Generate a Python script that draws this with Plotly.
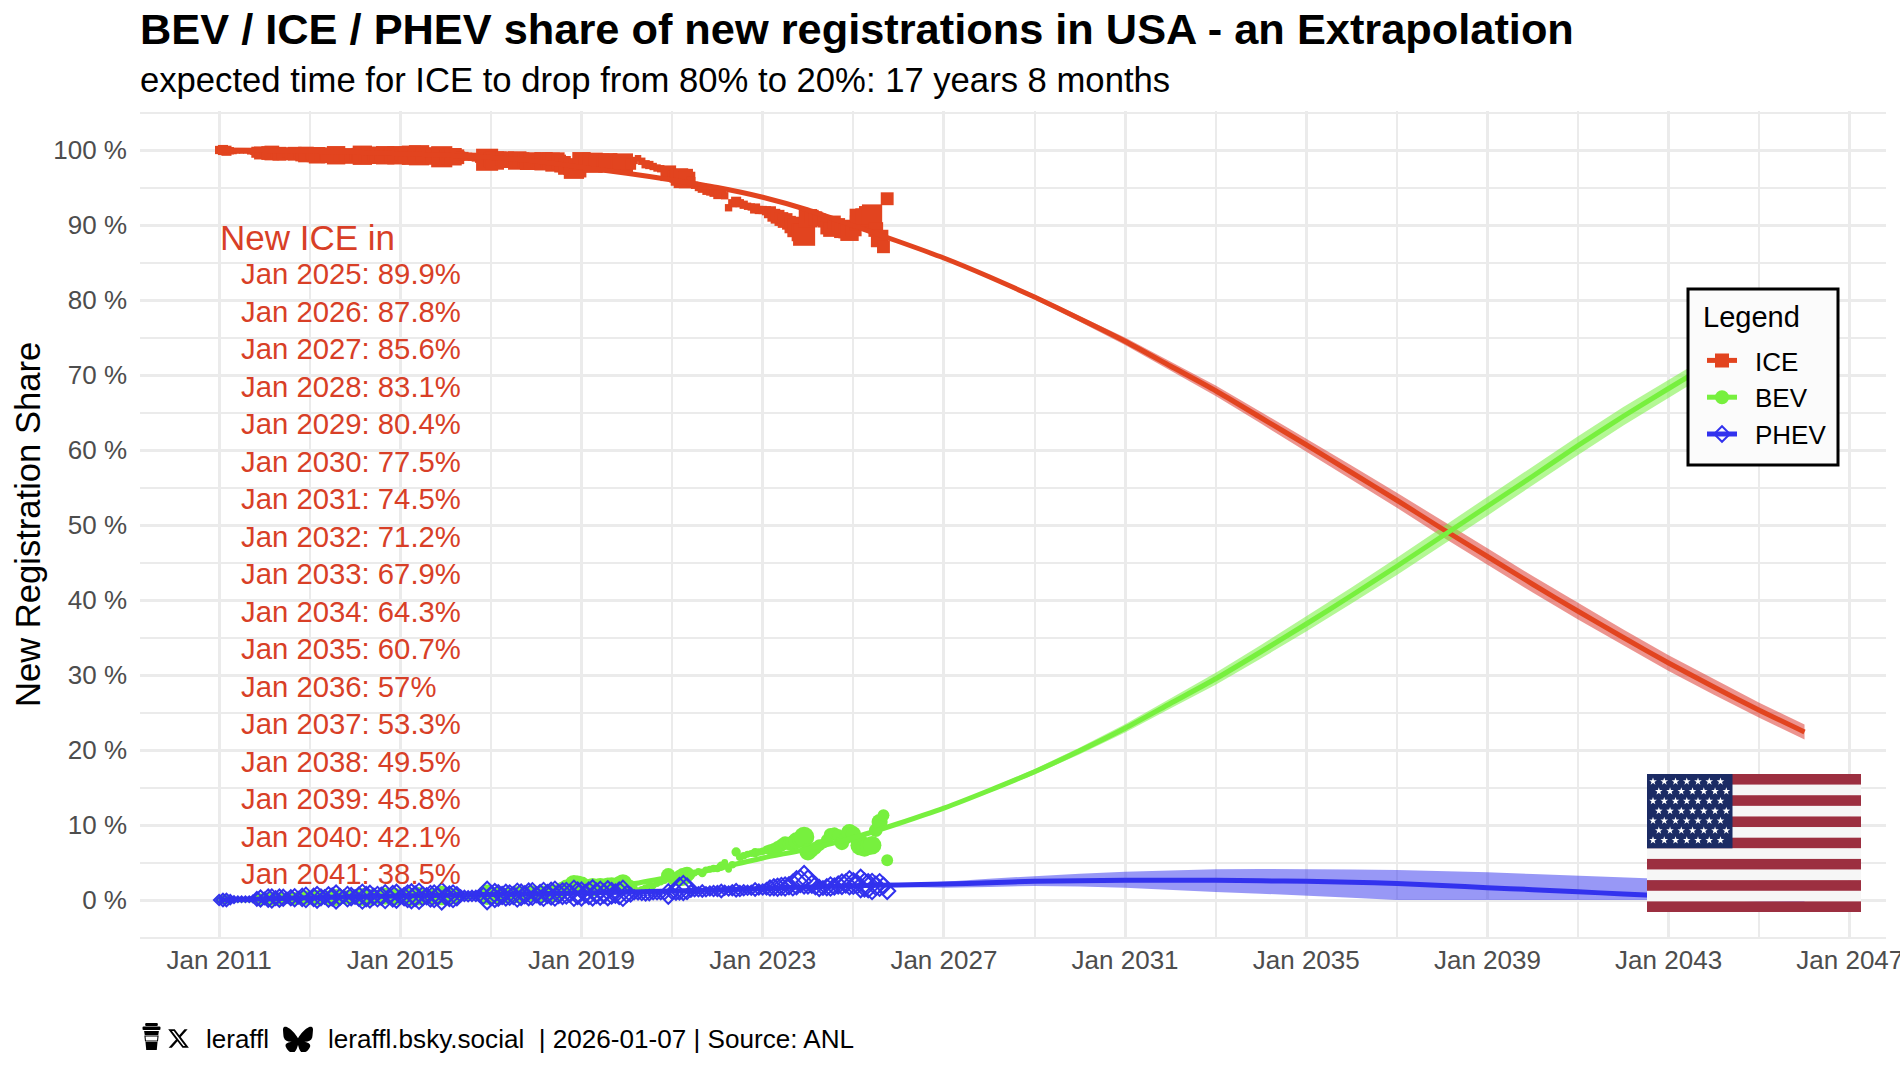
import base64
import math

import pandas as pd
import plotly.graph_objects as go

# ---- monthly registration shares, Jan 2011 .. Oct 2025 (percent) ----
ice_share = [
    100.0, 100.0, 99.9, 99.9, 99.8, 99.8, 99.8, 99.8, 99.7, 99.7, 99.7, 99.6,
    99.6, 99.6, 99.6, 99.6, 99.5, 99.5, 99.5, 99.5, 99.5, 99.4, 99.4, 99.4,
    99.3, 99.3, 99.3, 99.3, 99.3, 99.3, 99.3, 99.3, 99.3, 99.3, 99.2, 99.3,
    99.3, 99.3, 99.3, 99.3, 99.3, 99.3, 99.3, 99.3, 99.3, 99.3, 99.3, 99.3,
    99.3, 99.3, 99.3, 99.3, 99.3, 99.3, 99.3, 99.3, 99.2, 99.2, 99.2, 99.1,
    99.2, 99.1, 99.1, 99.1, 99.2, 99.2, 99.1, 99.1, 99.0, 98.9, 98.8, 98.7,
    98.7, 98.6, 98.7, 98.8, 98.7, 98.7, 98.6, 98.6, 98.6, 98.6, 98.5, 98.5,
    98.5, 98.5, 98.5, 98.5, 98.5, 98.4, 98.4, 98.1, 97.8, 97.6, 97.5, 97.5,
    98.5, 98.4, 98.4, 98.3, 98.3, 98.3, 98.3, 98.3, 98.3, 98.2, 98.2, 98.2,
    98.2, 98.1, 98.6, 98.9, 98.5, 98.1, 98.0, 97.8, 97.6, 97.5, 97.3, 96.9,
    96.6, 96.5, 96.4, 96.2, 96.0, 95.8, 95.3, 95.0, 94.9, 94.5, 94.4, 94.3,
    94.0, 94.2, 93.9, 92.3, 92.9, 93.1, 92.9, 92.7, 92.5, 92.4, 92.2, 92.0,
    92.0, 91.9, 91.7, 91.3, 91.1, 90.8, 90.6, 90.3, 90.0, 89.6, 89.0, 88.7,
    90.9, 91.1, 90.9, 90.7, 90.4, 89.6, 89.4, 90.4, 90.0, 89.3, 89.2, 89.1,
    89.6, 90.3, 90.7, 91.0, 91.3, 91.4, 89.4, 88.2, 87.1, 93.5,
]
bev_share = [
    0.05, 0.05, 0.05, 0.05, 0.1, 0.1, 0.1, 0.1, 0.1, 0.1, 0.1, 0.1,
    0.1, 0.1, 0.15, 0.1, 0.15, 0.15, 0.2, 0.2, 0.2, 0.2, 0.3, 0.3,
    0.2, 0.2, 0.3, 0.3, 0.3, 0.3, 0.35, 0.35, 0.4, 0.4, 0.35, 0.35,
    0.3, 0.3, 0.4, 0.35, 0.35, 0.4, 0.4, 0.4, 0.5, 0.4, 0.4, 0.45,
    0.3, 0.35, 0.4, 0.4, 0.4, 0.5, 0.45, 0.4, 0.45, 0.45, 0.5, 0.6,
    0.4, 0.45, 0.5, 0.5, 0.5, 0.5, 0.5, 0.6, 0.6, 0.6, 0.6, 0.7,
    0.5, 0.6, 0.7, 0.6, 0.6, 0.65, 0.65, 0.7, 0.8, 0.8, 0.8, 0.9,
    0.7, 0.7, 0.8, 0.8, 0.9, 0.9, 1.1, 1.4, 1.7, 1.9, 2.1, 2.2,
    2.0, 1.6, 1.7, 1.7, 1.8, 1.8, 1.9, 1.8, 2.0, 2.0, 2.1, 2.2,
    2.1, 2.0, 1.6, 1.3, 1.4, 1.6, 1.8, 1.9, 2.2, 2.4, 2.6, 3.3,
    2.6, 2.8, 2.9, 3.1, 3.4, 3.3, 3.6, 3.8, 3.6, 4.0, 4.1, 4.2,
    4.2, 4.5, 5.0, 4.1, 4.7, 6.4, 5.7, 5.9, 6.1, 6.2, 6.3, 6.4,
    6.5, 6.7, 6.7, 6.8, 7.0, 7.3, 7.6, 7.5, 7.6, 7.9, 8.1, 8.4,
    6.4, 6.5, 6.9, 7.3, 7.5, 8.0, 8.7, 8.9, 8.6, 7.6, 8.3, 9.0,
    8.8, 7.9, 7.3, 6.9, 7.1, 7.3, 9.3, 10.4, 11.3, 5.3,
]
phev_share = [
    0.0, 0.0, 0.0, 0.05, 0.05, 0.1, 0.1, 0.1, 0.1, 0.15, 0.15, 0.2,
    0.2, 0.25, 0.2, 0.25, 0.25, 0.3, 0.3, 0.3, 0.3, 0.3, 0.35, 0.35,
    0.3, 0.35, 0.35, 0.35, 0.4, 0.4, 0.4, 0.4, 0.4, 0.45, 0.45, 0.45,
    0.4, 0.45, 0.45, 0.45, 0.45, 0.45, 0.45, 0.5, 0.45, 0.45, 0.5, 0.5,
    0.4, 0.45, 0.5, 0.5, 0.5, 0.5, 0.5, 0.5, 0.5, 0.5, 0.5, 0.5,
    0.45, 0.5, 0.5, 0.5, 0.55, 0.55, 0.5, 0.55, 0.55, 0.55, 0.55, 0.6,
    0.55, 0.6, 0.6, 0.6, 0.65, 0.65, 0.6, 0.65, 0.7, 0.7, 0.75, 0.8,
    0.7, 0.7, 0.75, 0.8, 0.85, 0.85, 0.8, 0.85, 0.9, 0.9, 0.9, 0.9,
    0.8, 0.85, 0.9, 0.95, 0.9, 0.9, 0.85, 0.9, 0.9, 0.85, 0.9, 0.9,
    0.8, 0.7, 0.7, 0.6, 0.6, 0.6, 0.65, 0.7, 0.7, 0.7, 0.7, 0.8,
    0.9, 1.1, 1.5, 1.6, 1.5, 1.2, 1.1, 1.1, 1.2, 1.1, 1.2, 1.2,
    1.2, 1.2, 1.3, 1.2, 1.3, 1.3, 1.2, 1.3, 1.3, 1.3, 1.4, 1.4,
    1.4, 1.5, 1.6, 1.7, 1.7, 1.8, 1.8, 1.9, 2.0, 2.3, 2.5, 2.7,
    2.4, 2.1, 1.9, 1.6, 1.6, 1.7, 1.8, 1.8, 2.0, 2.1, 2.2, 2.3,
    2.2, 2.1, 2.2, 2.0, 1.9, 1.8, 1.9, 2.0, 1.9, 1.2,
]
# marker scale per month, follows the monthly registration volume
volume_size = [
    9, 11, 11, 8, 6, 5, 5, 5, 5, 6, 12, 14,
    10, 15, 16, 12, 15, 14, 9, 13, 15, 10, 15, 17,
    10, 15, 18, 14, 12, 17, 15, 20, 14, 11, 17, 15,
    12, 16, 21, 17, 19, 14, 17, 15, 20, 12, 18, 20,
    12, 15, 19, 21, 17, 22, 16, 14, 18, 19, 14, 23,
    14, 17, 19, 16, 10, 9, 9, 9, 9, 10, 14, 24,
    16, 20, 18, 15, 18, 17, 15, 20, 18, 15, 19, 19,
    13, 17, 20, 16, 19, 21, 16, 18, 18, 15, 22, 19,
    20, 15, 19, 22, 17, 20, 16, 21, 18, 16, 19, 22,
    14, 12, 8, 7, 8, 9, 9, 8, 8, 8, 8, 17,
    10, 14, 19, 21, 18, 10, 8, 8, 10, 8, 8, 9,
    9, 11, 8, 8, 9, 11, 9, 9, 8, 8, 11, 9,
    9, 10, 13, 14, 15, 15, 16, 15, 18, 20, 19, 24,
    20, 15, 15, 14, 12, 14, 16, 14, 15, 17, 16, 20,
    18, 16, 24, 20, 20, 22, 16, 19, 14, 14,
]

# ---- extrapolated curves, one value per January ----
fit_years = list(range(2011, 2047))
ice_fit_before = [100.0, 99.95, 99.85, 99.7, 99.5, 99.3, 99.0, 98.5, 97.7, 96.9, 96.0, 95.0, 93.7, 92.0]
label_years = list(range(2025, 2042))
label_values = [89.9, 87.8, 85.6, 83.1, 80.4, 77.5, 74.5, 71.2, 67.9, 64.3, 60.7, 57, 53.3, 49.5, 45.8, 42.1, 38.5]
ice_fit_after = [35.0, 31.6, 28.4, 25.3, 22.4]
ice_fit = ice_fit_before + label_values + ice_fit_after
ice_band = [0, 0, 0, 0, 0, 0, 0, 0, 0, 0, 0, 0, 0, 0, 0.05, 0.08, 0.15, 0.22, 0.3, 0.4, 0.5, 0.6,
            0.7, 0.78, 0.85, 0.93, 1.0, 1.05, 1.1, 1.1, 1.1, 1.08, 1.05, 1.03, 1.0, 1.0]
bev_fit = [0.0, 0.05, 0.15, 0.3, 0.45, 0.6, 0.8, 1.05, 1.35, 2.0, 3.1, 4.2, 5.6, 6.8, 8.3, 10.2, 12.25,
           14.6, 17.1, 19.9, 22.9, 26.2, 29.5, 33.1, 36.8, 40.6, 44.5, 48.5, 52.5, 56.5, 60.6, 64.5,
           68.2, 71.8, 75.0, 77.8]
bev_band = [0, 0, 0, 0, 0, 0, 0, 0, 0, 0, 0, 0, 0, 0, 0.05, 0.1, 0.15, 0.25, 0.35, 0.45, 0.55, 0.68,
            0.8, 0.9, 1.0, 1.08, 1.15, 1.2, 1.25, 1.25, 1.25, 1.22, 1.2, 1.18, 1.15, 1.1]
phev_fit = [0.0, 0.15, 0.3, 0.45, 0.55, 0.65, 0.75, 0.85, 0.95, 1.05, 1.2, 1.35, 1.55, 1.75, 1.9, 2.0,
            2.13, 2.3, 2.5, 2.58, 2.62, 2.64, 2.62, 2.56, 2.49, 2.36, 2.2, 1.95, 1.64, 1.38, 1.1, 0.8,
            0.53, 0.3, 0.15, 0.05]
phev_upper = [0.0, 0.15, 0.3, 0.45, 0.55, 0.65, 0.75, 0.85, 0.95, 1.05, 1.2, 1.35, 1.55, 1.75, 2.0, 2.2,
              2.44, 2.85, 3.2, 3.5, 3.78, 3.98, 4.09, 4.13, 4.13, 4.08, 4.0, 3.86, 3.69, 3.47, 3.24,
              3.02, 2.8, 2.55, 2.3, 2.1]
phev_lower = [0.0, 0.15, 0.3, 0.45, 0.55, 0.65, 0.75, 0.85, 0.95, 1.05, 1.2, 1.35, 1.55, 1.7, 1.8, 1.75,
              1.64, 1.75, 1.87, 1.8, 1.64, 1.35, 1.07, 0.85, 0.62, 0.3, 0.0, 0.0, 0.0, 0.0, 0.0, 0.0,
              0.0, 0.0, 0.0, 0.0]

series_names = ["ICE", "BEV", "PHEV"]

ICE_COLOR = "#e2441f"
BEV_COLOR = "#77f03e"
PHEV_COLOR = "#3232ee"
TEXT_RED = "#d83f27"
FONT = "Liberation Sans"

months = pd.date_range("2011-01-01", periods=len(ice_share), freq="MS")
fit_dates = [f"{y}-01-01" for y in fit_years]


def band_trace(upper, lower, color):
    return go.Scatter(
        x=fit_dates + fit_dates[::-1], y=list(upper) + list(lower)[::-1],
        mode="lines", fill="toself", fillcolor=color, line=dict(width=0),
        hoverinfo="skip", showlegend=False,
    )


fig = go.Figure()

# scatter of the observed months, marker size tracks registration volume
fig.add_trace(go.Scatter(x=months, y=ice_share, mode="markers", showlegend=False,
                         marker=dict(symbol="square", color=ICE_COLOR, line=dict(width=0), opacity=1,
                                     size=[s * 0.92 for s in volume_size])))
fig.add_trace(go.Scatter(x=months, y=bev_share, mode="markers", showlegend=False,
                         marker=dict(symbol="circle", color=BEV_COLOR, line=dict(width=0), opacity=1,
                                     size=[s * 0.85 for s in volume_size])))

# uncertainty ribbons
fig.add_trace(band_trace([m + b for m, b in zip(ice_fit, ice_band)],
                         [m - b for m, b in zip(ice_fit, ice_band)], "rgba(218,50,40,0.52)"))
fig.add_trace(band_trace([m + b for m, b in zip(bev_fit, bev_band)],
                         [m - b for m, b in zip(bev_fit, bev_band)], "rgba(119,240,62,0.55)"))
fig.add_trace(band_trace(phev_upper, phev_lower, "rgba(50,50,238,0.5)"))

# extrapolation curves
for values, color in ((ice_fit, ICE_COLOR), (bev_fit, BEV_COLOR), (phev_fit, PHEV_COLOR)):
    fig.add_trace(go.Scatter(x=fit_dates, y=values, mode="lines", showlegend=False,
                             line=dict(color=color, width=5, shape="spline", smoothing=0.6)))

fig.add_trace(go.Scatter(x=months, y=phev_share, mode="markers", showlegend=False,
                         marker=dict(symbol="diamond-open", color=PHEV_COLOR, opacity=1,
                                     line=dict(width=2, color=PHEV_COLOR),
                                     size=[s * 1.15 / 1.3 for s in volume_size])))

# legend keys only; the en space opens the gap between key and label
for name, color, symbol, size in zip(series_names, (ICE_COLOR, BEV_COLOR, PHEV_COLOR),
                                     ("square", "circle", "diamond-open"), (11, 10, 10)):
    fig.add_trace(go.Scatter(x=[None], y=[None], name="\u2002" + name, mode="lines+markers",
                             line=dict(color=color, width=4),
                             marker=dict(symbol=symbol, size=size, color=color,
                                         line=dict(width=2, color=color))))

# page geometry in pixels
W, H = 1900, 1068
PL, PR, PT, PB = 140, 1886, 111, 939


def px_x(x):
    return (x - PL) / (PR - PL)


def px_y(y):
    return (PB - y) / (PB - PT)


def text_note(x, y, text, size, color="#000000", anchor="left", **extra):
    fig.add_annotation(xref="paper", yref="paper", x=px_x(x), y=px_y(y), text=text,
                       showarrow=False, xanchor=anchor, yanchor="middle",
                       font=dict(family=FONT, size=size, color=color), **extra)


# running table of projected ICE share, spaced on the 5 % grid
fig.add_annotation(x="2011-01-01", y=88.4, text="New ICE in", showarrow=False, xanchor="left", yanchor="middle",
                   xshift=-1.5, font=dict(family=FONT, size=35, color=TEXT_RED))
for i, (year, value) in enumerate(zip(label_years, label_values)):
    fig.add_annotation(x="2011-07-01", y=83.5 - 5 * i, text=f"Jan {year}: {value:g}%",
                       showarrow=False, xanchor="left", yanchor="middle", xshift=-2.5,
                       font=dict(family=FONT, size=29.3, color=TEXT_RED))

text_note(137.5, 80, "expected time for ICE to drop from 80% to 20%: 17 years 8 months", 34.65)
text_note(28, 525, "New Registration Share", 34.6, anchor="center", textangle=-90)
text_note(203.5, 1039, "leraffl", 26)
text_note(325.5, 1039, "leraffl.bsky.social  | 2026-01-07 | Source: ANL", 26.1)
text_note(1701, 317, "Legend", 29)

# legend frame sits behind the native legend entries
fig.add_shape(type="rect", xref="paper", yref="paper", x0=px_x(1688), x1=px_x(1838), y0=px_y(289), y1=px_y(465),
              fillcolor="#fbfbfb", line=dict(color="#000000", width=3), layer="above")


def svg_uri(svg):
    return "data:image/svg+xml;base64," + base64.b64encode(svg.encode()).decode()


def flag_svg():
    w, h = 214, 138
    stripe = h / 13
    parts = [f'<svg xmlns="http://www.w3.org/2000/svg" width="{w}" height="{h}" viewBox="0 0 {w} {h}">']
    for i in range(13):
        fill = "#9c2f40" if i % 2 == 0 else "#f6f6f6"
        parts.append(f'<rect x="0" y="{i * stripe:.2f}" width="{w}" height="{stripe + 0.3:.2f}" fill="{fill}"/>')
    parts.append(f'<rect x="0" y="0" width="85.5" height="{7 * stripe:.2f}" fill="#1b2b64"/>')
    for row in range(7):
        for col in range(7):
            cx = 6 + col * 11.25 + (5.8 if row % 2 else 0)
            cy = 7.5 + row * 9.8
            pts = []
            for k in range(10):
                r = 4.0 if k % 2 == 0 else 1.6
                a = -math.pi / 2 + k * math.pi / 5
                pts.append(f"{cx + r * math.cos(a):.2f},{cy + r * math.sin(a):.2f}")
            parts.append(f'<polygon points="{" ".join(pts)}" fill="#ffffff"/>')
    parts.append("</svg>")
    return "".join(parts)


CUP_SVG = ('<svg xmlns="http://www.w3.org/2000/svg" viewBox="0 0 18 27" width="18" height="27">'
           '<rect x="3" y="0" width="12" height="3" rx="1" fill="#000"/>'
           '<rect x="0.5" y="3.5" width="17" height="3.5" rx="1" fill="#000"/>'
           '<path d="M2 8H16L15.4 12H2.6Z" fill="#000"/>'
           '<path d="M3.3 19H14.7L14 27H4Z" fill="#000"/>'
           '<path d="M2.8 13H15.2L14.7 18H3.3Z" fill="none" stroke="#000" stroke-width="1"/></svg>')
X_SVG = ('<svg xmlns="http://www.w3.org/2000/svg" viewBox="0 0 24 24" width="24" height="24">'
         '<path fill="#000" d="M18.244 2.25h3.308l-7.227 8.26 8.502 11.24H16.17l-5.214-6.817L4.99 21.75H1.68l7.73-8.835'
         'L1.254 2.25H8.08l4.713 6.231zm-1.161 17.52h1.833L7.084 4.126H5.117z"/></svg>')
BUTTERFLY_SVG = ('<svg xmlns="http://www.w3.org/2000/svg" viewBox="0 0 24 22" width="24" height="22">'
                 '<path fill="#000" d="M12 10.8c-1.087-2.114-4.046-6.053-6.798-7.995C2.566.944 1.561 1.266.902 1.565'
                 '.139 1.908 0 3.08 0 3.768c0 .69.378 5.65.624 6.479.815 2.736 3.713 3.66 6.383 3.364-3.912.58-7.387 '
                 '2.005-2.83 7.078 5.013 5.19 6.87-1.113 7.823-4.308.953 3.195 2.05 9.271 7.733 4.308 4.267-4.308 '
                 '1.172-6.498-2.74-7.078 2.67.297 5.568-.628 6.383-3.364.246-.828.624-5.79.624-6.479 0-.688-.139-1.86'
                 '-.902-2.203-.659-.299-1.664-.621-4.3 1.24C16.046 4.748 13.087 8.687 12 10.8Z"/></svg>')


def place_image(svg, left, top, right, bottom):
    fig.add_layout_image(source=svg_uri(svg), xref="paper", yref="paper", x=px_x(left), y=px_y(top),
                         sizex=(right - left) / (PR - PL), sizey=(bottom - top) / (PB - PT),
                         xanchor="left", yanchor="top", sizing="stretch", layer="above")


place_image(flag_svg(), 1647, 774, 1861, 912)
place_image(CUP_SVG, 142, 1023, 161, 1050)
place_image(X_SVG, 167, 1027, 190, 1050)
place_image(BUTTERFLY_SVG, 283, 1025, 313, 1052)

GRID = "#ebebeb"
fig.update_layout(
    width=W, height=H, autosize=False,
    margin=dict(l=PL, r=W - PR, t=PT, b=H - PB, pad=0, autoexpand=False),
    paper_bgcolor="#ffffff", plot_bgcolor="#ffffff",
    font=dict(family=FONT, color="#000000"),
    title=dict(text="<b>BEV / ICE / PHEV share of new registrations in USA - an Extrapolation</b>",
               font=dict(family=FONT, size=43.35, color="#000000"),
               x=0, xref="paper", xanchor="left", y=1 - 29 / H, yref="container", yanchor="middle"),
    legend=dict(x=px_x(1702), y=px_y(337), xanchor="left", yanchor="top",
                bgcolor="rgba(0,0,0,0)", borderwidth=0,
                font=dict(family=FONT, size=26, color="#000000"),
                itemsizing="constant", tracegroupgap=0),
    xaxis=dict(type="date", range=["2009-04-03", "2047-10-20"], tick0="2011-01-01", dtick="M48",
               tickformat="%b %Y", ticks="", showgrid=True, gridcolor=GRID, gridwidth=2.5, zeroline=False,
               showline=False, ticklabelstandoff=3, ticklabeloverflow="allow", automargin=False,
               tickfont=dict(family=FONT, size=26, color="#4d4d4d"),
               minor=dict(tick0="2011-01-01", dtick="M24", showgrid=True, gridcolor=GRID, gridwidth=1.8, ticks="")),
    yaxis=dict(range=[-5.2, 105.2], dtick=10, tick0=0, ticksuffix=" %", ticks="", showgrid=True, gridcolor=GRID,
               gridwidth=2.5, zeroline=False, showline=False, ticklabelstandoff=12, automargin=False,
               tickfont=dict(family=FONT, size=26, color="#4d4d4d"),
               minor=dict(tick0=0, dtick=5, showgrid=True, gridcolor=GRID, gridwidth=1.8, ticks="")),
)

fig.write_html("out.html")
